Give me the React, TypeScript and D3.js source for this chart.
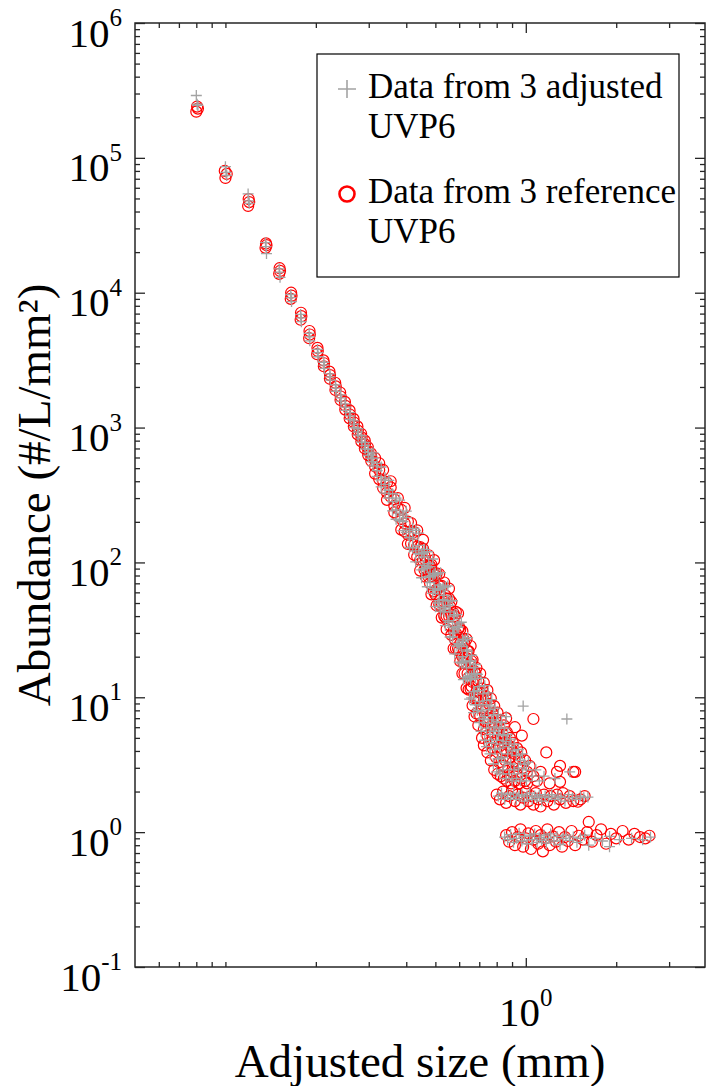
import React, {useEffect, useRef} from 'react'
import * as d3 from 'd3'

const width = 709
const height = 1086
const plot = {left: 135, right: 705, top: 23, bottom: 967}
const font = "'Liberation Serif', 'Times New Roman', serif"

// axis ticks
const yExponents = [-1, 0, 1, 2, 3, 4, 5, 6]
const xMinorTicks = [0.06, 0.07, 0.08, 0.09, 0.1, 0.2, 0.3, 0.4, 0.5, 0.6, 0.7, 0.8, 0.9, 2, 3]
const xMajorTicks = [1]

const legendLabels = [
  ['Data from 3 adjusted', 'UVP6'],
  ['Data from 3 reference', 'UVP6'],
]

// [size (mm), abundance (#/L/mm2)] - reference UVP6 (red circles)
const refBins = [
  [0.08, 2.2e5], [0.081, 2.32e5], [0.0805, 2.4e5],
  [0.1, 7.1e4], [0.101, 7.6e4], [0.0995, 8.0e4],
  [0.119, 4.4e4], [0.12, 4.7e4], [0.1195, 4.95e4],
  [0.136, 2.15e4], [0.137, 2.25e4], [0.1365, 2.32e4],
  [0.151, 1.38e4], [0.152, 1.45e4], [0.1515, 1.52e4],
  [0.165, 9.0e3], [0.166, 9.5e3], [0.1655, 1.0e4],
  [0.178, 6.3e3], [0.179, 6.7e3], [0.1785, 7.1e3],
  [0.19, 4.6e3], [0.191, 4.9e3], [0.1905, 5.2e3],
  [0.202, 3.5e3], [0.203, 3.7e3], [0.2025, 3.9e3],
  [0.2126, 2.85e3], [0.213, 3.0e3], [0.212, 3.15e3],
  [0.2227, 2.3e3], [0.223, 2.45e3], [0.222, 2.6e3],
  [0.2324, 1.9e3], [0.233, 2.02e3], [0.232, 2.15e3],
  [0.2417, 1.6e3], [0.242, 1.7e3], [0.241, 1.82e3],
  [0.2506, 1.36e3], [0.251, 1.45e3], [0.25, 1.55e3],
  [0.2592, 1.17e3], [0.2596, 1.25e3], [0.259, 1.34e3],
  [0.2676, 1.02e3], [0.268, 1.09e3], [0.267, 1.16e3],
  [0.2757, 890], [0.276, 950], [0.275, 1020],
  [0.2835, 790], [0.284, 845], [0.283, 900],
  [0.2912, 700], [0.2915, 750], [0.291, 800],
  [0.2987, 625], [0.299, 670], [0.298, 715],
  [0.3059, 565], [0.306, 605], [0.305, 645],
]

const refBand = [
  [0.315, 594], [0.315, 514], [0.315, 456], [0.325, 484], [0.325, 415], [0.325, 544],
  [0.335, 485], [0.335, 404], [0.335, 356], [0.345, 330], [0.345, 390], [0.345, 291],
  [0.355, 360], [0.355, 307], [0.355, 400], [0.365, 235], [0.365, 294], [0.365, 263],
  [0.375, 300], [0.375, 221], [0.375, 251], [0.385, 175], [0.385, 245], [0.385, 210],
  [0.395, 254], [0.395, 195], [0.395, 170], [0.405, 161], [0.405, 201], [0.405, 137],
  [0.415, 170], [0.415, 138], [0.415, 196], [0.425, 135], [0.425, 168], [0.425, 114],
  [0.435, 173], [0.435, 131], [0.435, 110], [0.445, 104], [0.445, 130], [0.445, 87],
  [0.455, 126], [0.455, 103], [0.455, 147], [0.465, 78], [0.465, 103], [0.465, 90],
  [0.475, 113], [0.475, 78], [0.475, 96], [0.485, 58], [0.485, 79], [0.485, 96],
  [0.495, 83], [0.495, 61], [0.495, 104], [0.505, 63], [0.505, 83], [0.505, 48],
  [0.515, 67], [0.515, 49], [0.515, 82], [0.525, 50], [0.525, 67], [0.525, 39],
  [0.535, 71], [0.535, 51], [0.535, 40], [0.545, 40], [0.545, 54], [0.545, 32],
  [0.555, 54], [0.555, 40], [0.555, 64], [0.565, 29], [0.565, 41], [0.565, 51],
  [0.575, 42], [0.575, 31], [0.575, 23], [0.585, 30], [0.585, 43], [0.585, 23],
  [0.595, 32], [0.595, 23], [0.595, 42], [0.605, 18.5], [0.605, 32], [0.605, 25],
  [0.615, 31], [0.615, 20], [0.615, 15], [0.625, 19.5], [0.625, 25], [0.625, 15],
  [0.635, 27], [0.635, 19.5], [0.635, 11.7], [0.645, 14], [0.645, 22], [0.645, 11.4],
  [0.655, 17.6], [0.655, 11.5], [0.655, 24], [0.665, 13], [0.665, 19], [0.665, 8.7],
  [0.675, 15.6], [0.675, 9.8], [0.675, 7.2],
]

const refBandFill = [
  [0.46, 112], [0.46, 88], [0.48, 94], [0.48, 70], [0.5, 80], [0.5, 58],
  [0.52, 66], [0.52, 47], [0.54, 57], [0.54, 39], [0.56, 47], [0.56, 34],
  [0.58, 40], [0.58, 27], [0.6, 33], [0.6, 22], [0.62, 27], [0.62, 18],
  [0.64, 22], [0.64, 15], [0.66, 18.5], [0.66, 12], [0.68, 15], [0.68, 10],
]

const refLow = [
  [0.685, 16.5], [0.685, 7.6], [0.685, 11.0], [0.695, 13.2], [0.695, 6.2], [0.695, 9.4],
  [0.705, 15.0], [0.705, 7.3], [0.705, 10.8], [0.715, 11.6], [0.715, 5.0], [0.715, 8.3],
  [0.725, 12.8], [0.725, 5.8], [0.725, 9.5], [0.725, 4.4], [0.735, 10.2], [0.735, 6.6], [0.735, 8.0],
  [0.745, 11.3], [0.745, 3.9], [0.745, 5.2], [0.755, 8.9], [0.755, 4.6], [0.755, 7.0],
  [0.765, 9.8], [0.765, 3.4], [0.765, 6.1], [0.775, 7.6], [0.775, 4.2], [0.775, 5.5],
  [0.785, 8.6], [0.785, 2.9], [0.785, 6.5], [0.795, 6.9], [0.795, 3.6], [0.795, 4.8],
  [0.805, 7.7], [0.805, 2.7], [0.805, 5.7], [0.815, 6.0], [0.815, 3.3], [0.815, 4.3],
  [0.825, 6.8], [0.825, 2.6], [0.825, 5.0], [0.835, 5.4], [0.835, 3.1], [0.835, 3.9],
  [0.845, 6.2], [0.845, 2.5], [0.845, 4.6], [0.855, 4.9], [0.855, 3.4], [0.86, 7.0],
  [0.865, 5.5], [0.865, 2.4], [0.865, 4.0], [0.875, 4.4], [0.875, 3.0],
  [0.885, 5.0], [0.885, 2.6], [0.885, 3.6], [0.895, 4.1], [0.895, 2.3],
  [0.905, 4.6], [0.905, 2.8], [0.905, 3.3], [0.92, 3.8], [0.92, 2.4], [0.92, 6.0],
  [0.935, 4.2], [0.935, 2.7], [0.935, 3.1], [0.95, 3.5], [0.95, 2.3],
  [0.965, 3.9], [0.965, 2.5], [0.97, 5.2], [0.98, 3.0], [0.995, 3.4], [0.995, 2.4],
  [1.01, 2.8], [1.01, 2.3], [1.03, 3.1], [1.06, 6.9], [1.06, 2.6], [1.09, 2.4],
  [1.12, 2.8], [1.17, 3.9], [1.2, 2.3], [1.27, 2.8], [1.3, 3.1], [1.3, 2.36],
  [1.44, 2.8], [1.46, 2.8],
]

const refRow2 = [
  [0.8, 1.9], [0.82, 1.75], [0.84, 2.0], [0.86, 1.65], [0.88, 1.85], [0.9, 2.05],
  [0.92, 1.7], [0.94, 1.9], [0.96, 1.6], [0.98, 1.8], [1.0, 2.0], [1.02, 1.7],
  [1.04, 1.85], [1.06, 1.6], [1.08, 1.95], [1.1, 1.75], [1.12, 1.55], [1.15, 1.9],
  [1.18, 1.7], [1.21, 1.85], [1.24, 1.6], [1.27, 1.9], [1.3, 1.75], [1.33, 1.95],
  [1.36, 1.65], [1.4, 1.85], [1.44, 1.7], [1.49, 1.68], [1.52, 1.75], [1.57, 1.85],
]

const refRow1 = [
  [0.86, 0.95], [0.88, 0.85], [0.9, 1.0], [0.92, 0.8], [0.94, 0.92], [0.96, 1.05],
  [0.98, 0.78], [1.0, 0.9], [1.02, 0.98], [1.04, 0.75], [1.06, 0.88], [1.08, 1.02],
  [1.1, 0.82], [1.12, 0.95], [1.14, 0.72], [1.16, 0.9], [1.18, 1.05], [1.2, 0.8],
  [1.23, 0.93], [1.26, 0.85], [1.29, 1.0], [1.32, 0.78], [1.35, 0.92], [1.38, 0.86],
  [1.42, 1.02], [1.46, 0.8], [1.5, 0.94], [1.55, 0.88], [1.6, 1.0], [1.62, 1.19],
  [1.66, 0.85], [1.72, 0.95], [1.78, 1.05], [1.85, 0.82], [1.92, 0.97], [2.0, 0.9],
  [2.1, 1.02], [2.2, 0.88], [2.3, 0.97], [2.4, 0.92], [2.5, 0.9], [2.58, 0.94],
]

// adjusted UVP6 (grey crosses)
const adjBins = [
  [0.08, 2.9e5], [0.0805, 2.5e5], [0.081, 2.45e5],
  [0.1, 8.6e4], [0.1005, 7.8e4], [0.101, 7.4e4],
  [0.119, 5.4e4], [0.1195, 4.8e4], [0.12, 4.6e4],
  [0.136, 2.35e4], [0.1365, 2.2e4], [0.137, 1.95e4],
  [0.151, 1.5e4], [0.1515, 1.42e4], [0.152, 1.3e4],
  [0.165, 9.7e3], [0.1655, 9.2e3], [0.166, 8.6e3],
  [0.178, 6.9e3], [0.1785, 6.5e3], [0.179, 6.1e3],
  [0.19, 5.0e3], [0.1905, 4.7e3], [0.191, 4.4e3],
  [0.2025, 3.8e3], [0.203, 3.6e3], [0.2035, 3.35e3],
  [0.2126, 3.05e3], [0.213, 2.9e3], [0.2135, 2.75e3],
  [0.2227, 2.5e3], [0.223, 2.38e3], [0.2235, 2.25e3],
  [0.2324, 2.07e3], [0.233, 1.96e3], [0.2335, 1.86e3],
  [0.2417, 1.75e3], [0.242, 1.66e3], [0.2425, 1.57e3],
  [0.2506, 1.5e3], [0.251, 1.42e3], [0.2515, 1.34e3],
  [0.2592, 1.29e3], [0.2596, 1.22e3], [0.26, 1.15e3],
  [0.2676, 1.12e3], [0.268, 1.06e3], [0.2685, 1.0e3],
  [0.2757, 980], [0.276, 930], [0.2765, 880],
  [0.2835, 870], [0.284, 825], [0.2845, 780],
  [0.2912, 775], [0.2915, 735], [0.292, 695],
  [0.2987, 690], [0.299, 655], [0.2995, 620],
  [0.3059, 625], [0.306, 590], [0.3065, 560],
]

const adjBand = [
  [0.31, 593], [0.31, 520], [0.31, 650], [0.32, 435], [0.32, 543], [0.32, 479],
  [0.33, 510], [0.33, 410], [0.33, 363], [0.34, 379], [0.34, 326], [0.34, 424],
  [0.35, 300], [0.35, 406], [0.35, 343], [0.36, 323], [0.36, 241], [0.36, 282],
  [0.37, 245], [0.37, 300], [0.37, 209], [0.38, 290], [0.38, 232], [0.38, 204],
  [0.39, 172], [0.39, 224], [0.39, 201], [0.4, 215], [0.4, 167], [0.4, 240],
  [0.41, 129], [0.41, 173], [0.41, 153], [0.42, 179], [0.42, 128], [0.42, 149],
  [0.43, 122], [0.43, 173], [0.43, 101], [0.44, 134], [0.44, 116], [0.44, 165],
  [0.45, 88], [0.45, 116], [0.45, 77], [0.46, 125], [0.46, 90], [0.46, 110],
  [0.47, 66], [0.47, 91], [0.47, 120], [0.48, 93], [0.48, 71], [0.48, 79],
  [0.49, 106], [0.49, 59], [0.49, 80], [0.5, 62], [0.5, 83], [0.5, 47],
  [0.51, 82], [0.51, 63], [0.51, 50], [0.52, 43.5], [0.52, 64], [0.52, 84],
  [0.53, 53], [0.53, 45], [0.53, 65], [0.54, 66], [0.54, 34], [0.54, 46.5],
  [0.55, 37], [0.55, 52], [0.55, 67], [0.56, 43], [0.56, 28], [0.56, 52],
  [0.57, 33], [0.57, 52], [0.57, 28], [0.58, 41], [0.58, 32], [0.58, 21],
  [0.59, 24], [0.59, 33.5], [0.59, 41], [0.6, 35], [0.6, 24.6], [0.6, 18.2],
  [0.61, 23.8], [0.61, 36], [0.61, 18], [0.62, 26], [0.62, 18], [0.62, 13.5],
  [0.63, 18.5], [0.63, 26.7], [0.63, 14], [0.64, 22], [0.64, 13.9], [0.64, 27.7],
  [0.65, 14.3], [0.65, 18.5], [0.65, 9.7], [0.66, 20.5], [0.66, 14.4], [0.66, 9.9],
  [0.67, 11], [0.67, 16.6], [0.67, 7.7], [0.68, 13.8], [0.68, 8.8], [0.68, 17.5],
]

const adjBandFill = [
  [0.455, 118], [0.455, 95], [0.475, 98], [0.475, 78], [0.495, 82], [0.495, 64],
  [0.515, 68], [0.515, 52], [0.535, 57], [0.535, 43], [0.555, 48], [0.555, 36],
  [0.575, 40], [0.575, 30], [0.595, 33], [0.595, 25], [0.615, 27], [0.615, 20],
  [0.635, 22.5], [0.635, 16.5], [0.655, 18.5], [0.655, 13.5], [0.675, 15], [0.675, 11],
]

const adjLow = [
  [0.69, 14.8], [0.69, 8.0], [0.69, 11.2], [0.7, 12.0], [0.7, 6.5], [0.7, 9.3],
  [0.71, 13.8], [0.71, 5.6], [0.71, 7.9], [0.72, 10.6], [0.72, 6.9], [0.72, 8.8],
  [0.73, 12.2], [0.73, 4.8], [0.73, 7.2], [0.74, 9.5], [0.74, 5.9], [0.74, 4.3],
  [0.75, 10.8], [0.75, 6.4], [0.75, 8.1], [0.76, 8.6], [0.76, 3.8], [0.76, 5.3],
  [0.77, 9.6], [0.77, 4.6], [0.77, 6.8], [0.78, 7.4], [0.78, 3.2], [0.78, 5.6],
  [0.79, 8.3], [0.79, 4.1], [0.79, 6.0], [0.8, 6.6], [0.8, 2.8], [0.8, 4.8],
  [0.81, 7.4], [0.81, 3.5], [0.81, 5.3], [0.82, 5.9], [0.82, 2.7], [0.82, 4.2],
  [0.83, 6.5], [0.83, 3.6], [0.84, 5.2], [0.84, 2.9], [0.84, 4.5],
  [0.85, 5.9], [0.85, 3.3], [0.86, 4.7], [0.86, 2.5], [0.86, 7.2],
  [0.87, 5.3], [0.87, 3.8], [0.88, 4.3], [0.88, 2.7], [0.89, 4.9], [0.89, 3.2],
  [0.9, 4.0], [0.9, 2.4], [0.915, 4.5], [0.915, 2.9], [0.93, 3.7], [0.93, 2.5],
  [0.945, 4.1], [0.945, 3.0], [0.96, 3.4], [0.96, 2.4], [0.975, 3.8], [0.975, 2.7],
  [0.98, 8.6], [0.99, 3.2], [1.005, 2.9], [1.005, 2.4], [1.02, 3.3],
  [1.05, 2.6], [1.08, 2.9], [1.11, 2.4], [1.15, 2.6], [1.25, 2.5], [1.37, 6.9], [1.4, 2.8],
]

const adjRow2 = [
  [0.81, 1.85], [0.83, 1.95], [0.85, 1.75], [0.87, 1.9], [0.89, 1.8], [0.91, 1.95],
  [0.93, 1.75], [0.95, 1.85], [0.97, 1.9], [0.99, 1.7], [1.01, 1.85], [1.03, 1.95],
  [1.05, 1.75], [1.07, 1.85], [1.09, 1.8], [1.11, 1.9], [1.13, 1.7], [1.16, 1.85],
  [1.19, 1.8], [1.22, 1.9], [1.25, 1.75], [1.28, 1.85], [1.31, 1.8], [1.35, 1.7],
  [1.39, 1.9], [1.43, 1.8], [1.47, 1.75], [1.52, 1.85], [1.56, 1.8], [1.61, 1.82],
]

const adjRow1 = [
  [0.85, 0.92], [0.87, 0.88], [0.89, 0.96], [0.91, 0.84], [0.93, 0.9], [0.95, 0.98],
  [0.97, 0.86], [0.99, 0.93], [1.01, 0.82], [1.03, 0.95], [1.05, 0.88], [1.07, 0.97],
  [1.09, 0.84], [1.11, 0.91], [1.13, 0.87], [1.15, 0.95], [1.17, 0.83], [1.19, 0.9],
  [1.21, 0.97], [1.24, 0.86], [1.27, 0.93], [1.3, 0.81], [1.33, 0.9], [1.36, 0.95],
  [1.4, 0.87], [1.44, 0.92], [1.48, 0.84], [1.52, 0.9], [1.57, 0.95], [1.62, 0.8],
  [1.7, 0.9], [1.8, 0.86], [1.9, 0.93], [1.9, 0.78], [2.05, 0.88], [2.25, 0.9],
  [2.45, 0.88], [2.6, 0.92],
]

const refData = [...refBins, ...refBand, ...refBandFill, ...refLow, ...refRow2, ...refRow1]
const adjData = [...adjBins, ...adjBand, ...adjBandFill, ...adjLow, ...adjRow2, ...adjRow1]

const axisColor = '#262626'
const grey = '#a3a3a3'
const red = '#ff0000'
const plusPath = 'M-5.5,0H5.5M0,-5.5V5.5'

const App = () => {
  const chartRef = useRef(null)

  useEffect(() => {
    drawChart()
  }, [])

  const drawChart = () => {
    const svg = d3.select(chartRef.current)
    svg.selectAll('*').remove()

    const x = d3.scaleLog().domain([0.05, 3.95]).range([plot.left, plot.right])
    const y = d3.scaleLog().domain([0.1, 1e6]).range([plot.bottom, plot.top])

    // data
    const marks = svg.append('g')
    marks
      .selectAll('circle')
      .data(refData)
      .enter()
      .append('circle')
      .attr('cx', d => x(d[0]))
      .attr('cy', d => y(d[1]))
      .attr('r', 5.5)
      .attr('fill', 'none')
      .attr('stroke', red)
      .attr('stroke-width', 1.2)

    marks
      .selectAll('path.adj')
      .data(adjData)
      .enter()
      .append('path')
      .attr('class', 'adj')
      .attr('d', plusPath)
      .attr('transform', d => `translate(${x(d[0])},${y(d[1])})`)
      .attr('fill', 'none')
      .attr('stroke', grey)
      .attr('stroke-width', 1.3)

    // ticks on all four sides, pointing inward
    const yMajor = yExponents.map(e => Math.pow(10, e))
    const yMinor = y.ticks().filter(v => !yMajor.some(m => Math.abs(m - v) / m < 1e-6))
    const noLabel = () => ''
    const tickAxis = (axis, transform) => {
      const g = svg.append('g').attr('transform', transform).call(axis)
      g.select('.domain').remove()
      g.selectAll('line').attr('stroke', axisColor).attr('stroke-width', 1.3)
    }
    tickAxis(d3.axisBottom(x).tickValues(xMinorTicks).tickSize(-5).tickFormat(noLabel), `translate(0,${plot.bottom})`)
    tickAxis(d3.axisBottom(x).tickValues(xMajorTicks).tickSize(-9).tickFormat(noLabel), `translate(0,${plot.bottom})`)
    tickAxis(d3.axisTop(x).tickValues(xMinorTicks).tickSize(-5).tickFormat(noLabel), `translate(0,${plot.top})`)
    tickAxis(d3.axisTop(x).tickValues(xMajorTicks).tickSize(-10).tickFormat(noLabel), `translate(0,${plot.top})`)
    tickAxis(d3.axisLeft(y).tickValues(yMinor).tickSize(-5).tickFormat(noLabel), `translate(${plot.left},0)`)
    tickAxis(d3.axisLeft(y).tickValues(yMajor).tickSize(-10).tickFormat(noLabel), `translate(${plot.left},0)`)
    tickAxis(d3.axisRight(y).tickValues(yMinor).tickSize(-5).tickFormat(noLabel), `translate(${plot.right},0)`)
    tickAxis(d3.axisRight(y).tickValues(yMajor).tickSize(-10).tickFormat(noLabel), `translate(${plot.right},0)`)

    svg
      .append('rect')
      .attr('x', plot.left)
      .attr('y', plot.top)
      .attr('width', plot.right - plot.left)
      .attr('height', plot.bottom - plot.top)
      .attr('fill', 'none')
      .attr('stroke', axisColor)
      .attr('stroke-width', 1.5)

    // y tick labels 10^e
    yExponents.forEach(e => {
      const t = svg
        .append('text')
        .attr('x', 122)
        .attr('y', y(Math.pow(10, e)) + 23.5)
        .attr('text-anchor', 'end')
        .style('font-family', font)
        .style('fill', '#000')
      t.append('tspan').style('font-size', '41px').text('10')
      t.append('tspan').attr('dy', -20.5).style('font-size', '25px').text(`${e}`)
    })

    // x tick label
    xMajorTicks.forEach(v => {
      const t = svg
        .append('text')
        .attr('x', x(v))
        .attr('y', 1026)
        .attr('text-anchor', 'middle')
        .style('font-family', font)
      t.append('tspan').style('font-size', '41px').text('10')
      t.append('tspan').attr('dy', -20.5).style('font-size', '25px').text(`${Math.round(Math.log10(v))}`)
    })

    // axis titles
    svg
      .append('text')
      .attr('x', (plot.left + plot.right) / 2)
      .attr('y', 1077)
      .attr('text-anchor', 'middle')
      .style('font-family', font)
      .style('font-size', '47px')
      .text('Adjusted size (mm)')

    svg
      .append('text')
      .attr('transform', `translate(50,${(plot.top + plot.bottom) / 2}) rotate(-90)`)
      .attr('text-anchor', 'middle')
      .style('font-family', font)
      .style('font-size', '47px')
      .text('Abundance (#/L/mm²)')

    // legend
    const lg = svg.append('g')
    lg.append('rect')
      .attr('x', 317)
      .attr('y', 54)
      .attr('width', 362)
      .attr('height', 223)
      .attr('fill', '#fff')
      .attr('stroke', '#000')
      .attr('stroke-width', 1.2)

    legendLabels.forEach((lines, i) => {
      const baseY = 98 + i * 105
      lines.forEach((line, j) => {
        lg.append('text')
          .attr('x', 368)
          .attr('y', baseY + j * 40)
          .style('font-family', font)
          .style('font-size', '35px')
          .text(line)
      })
      const my = baseY - 9
      if (i === 0) {
        lg.append('path')
          .attr('d', 'M-9,0H9M0,-9V9')
          .attr('transform', `translate(347,${my})`)
          .attr('stroke', grey)
          .attr('stroke-width', 1.6)
      } else {
        lg.append('circle')
          .attr('cx', 347)
          .attr('cy', my)
          .attr('r', 7.5)
          .attr('fill', 'none')
          .attr('stroke', red)
          .attr('stroke-width', 2.6)
      }
    })
  }

  return (
    <svg
      ref={chartRef}
      width={width}
      height={height}
      style={{position: 'absolute', left: 0, top: 0, background: '#fff'}}
    ></svg>
  )
}

export default App
